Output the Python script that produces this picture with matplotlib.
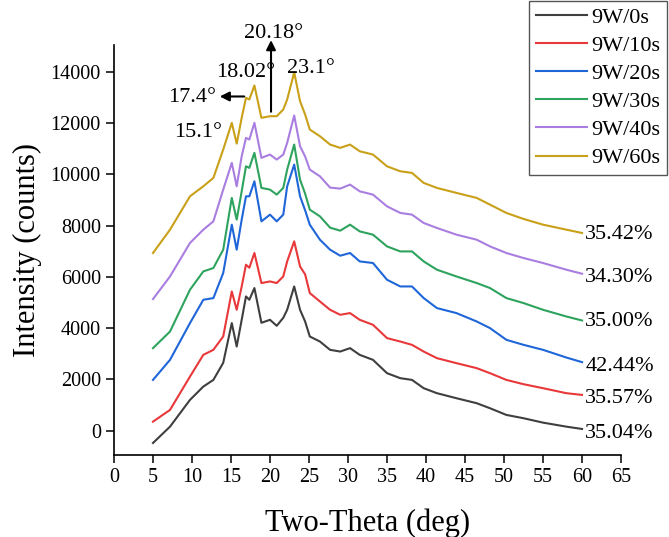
import matplotlib
matplotlib.use("Agg")
import matplotlib.pyplot as plt

plt.rcParams['font.family'] = ['Liberation Serif', 'DejaVu Serif']

theta = [5.0, 7.18, 9.74, 11.45, 12.74, 14.0, 15.1, 15.73, 16.37, 16.92, 17.35, 18.0,
         18.9, 20.0, 20.86, 21.7, 22.2, 23.1, 23.85, 24.5, 25.1, 26.4, 27.7, 29.0, 30.26,
         31.5, 33.2, 35.0, 36.7, 38.2, 39.7, 41.4, 43.9, 46.5, 48.2, 50.3, 52.5, 55.0,
         58.0, 60.0]

w0 = [-481, 156, 1200, 1720, 1981, 2646, 4197, 3283, 4326, 5237, 5108, 5565,
      4209, 4326, 4092, 4404, 4717, 5628, 4717, 4260, 3674, 3478, 3154, 3087, 3220,
      2958, 2763, 2243, 2048, 1981, 1657, 1462, 1266, 1071, 875, 614, 485, 313, 156, 66]
w10 = [352, 809, 2110, 2958, 3154, 3674, 5432, 4717, 5628, 6476, 6358, 6933,
       5760, 5823, 5760, 6018, 6605, 7386, 6409, 6100, 5370, 5041, 4717, 4522, 4588,
       4326, 4131, 3611, 3478, 3349, 3087, 2829, 2634, 2439, 2243, 1981, 1813, 1657,
       1462, 1395]
w20 = [1981, 2763, 4197, 5108, 5174, 6151, 8039, 7062, 8234, 9145, 9145, 9731,
       8168, 8430, 8168, 8430, 9535, 10383, 9145, 8600, 8039, 7452, 7062, 6827, 6933,
       6605, 6542, 5889, 5628, 5628, 5174, 4783, 4588, 4260, 4002, 3545, 3349, 3154,
       2853, 2673]
w30 = [3220, 3869, 5499, 6214, 6347, 7062, 9082, 8234, 9340, 10317, 10255, 10841,
       9473, 9406, 9211, 9473, 10188, 11165, 9797, 9250, 8625, 8363, 7922, 7804, 8039,
       7777, 7648, 7191, 6995, 6995, 6605, 6280, 6018, 5760, 5565, 5174, 4979, 4717,
       4455, 4299]
w40 = [5135, 6018, 7324, 7843, 8168, 9406, 10450, 9536, 10708, 11427, 11360, 12013,
       10646, 10774, 10579, 10774, 11231, 12298, 11099, 10700, 10188, 9926, 9485, 9446,
       9602, 9340, 9211, 8754, 8496, 8430, 8105, 7910, 7648, 7452, 7191, 6933, 6737,
       6542, 6280, 6124]
w60 = [6933, 7843, 9145, 9536, 9864, 10970, 12013, 11200, 12208, 12990, 12924, 13471,
       12208, 12271, 12271, 12533, 12924, 13979, 12857, 12338, 11751, 11490, 11165,
       11036, 11165, 10903, 10774, 10317, 10122, 10059, 9668, 9473, 9278, 9082, 8820,
       8496, 8262, 8039, 7843, 7714]

labels = ['9W/0s', '9W/10s', '9W/20s', '9W/30s', '9W/40s', '9W/60s']
colors = ['#3f3f3f', '#e8383a', '#1f66d9', '#2ea35e', '#a97ee0', '#c9a018']
percent = ['35.04%', '35.57%', '42.44%', '35.00%', '34.30%', '35.42%']
percent_y = [-130, 1240, 2490, 4250, 5970, 7650]

fig = plt.figure(figsize=(6.69, 5.37), dpi=100)
ax = fig.add_axes([0.1704, 0.1527, 0.7579, 0.7635])

series = [w0, w10, w20, w30, w40, w60]
for vals, name, c in zip(series, labels, colors):
    ax.plot(theta, vals, color=c, lw=1.5, label=name)

for txt, yv in zip(percent, percent_y):
    ax.text(60.4, yv, txt, fontsize=16, ha='left', va='center', clip_on=False)

# peak annotations
arrow = dict(arrowstyle='-|>', color='black', lw=1.5, mutation_scale=14)
ax.annotate('', xy=(20.13, 15348), xytext=(20.13, 12337), arrowprops=arrow,
            annotation_clip=False)
ax.annotate('', xy=(13.2, 13041), xytext=(17.05, 13041), arrowprops=arrow,
            annotation_clip=False)
ax.text(20.4, 15500, '20.18°', fontsize=16, ha='center', va='center', clip_on=False)
ax.text(16.9, 13980, '18.02°', fontsize=16, ha='center', va='center')
ax.text(25.3, 14150, '23.1°', fontsize=16, ha='center', va='center')
ax.text(13.1, 12990, '17.4°', fontsize=16, ha='right', va='center')
ax.text(10.8, 11640, '15.1°', fontsize=16, ha='center', va='center')

ax.set_xlim(0, 65)
ax.set_ylim(-950, 15050)
ax.set_xticks(range(0, 66, 5))
ax.set_yticks(range(0, 14001, 2000))
ax.tick_params(direction='out', length=6, width=1.1, labelsize=14.5)
for s in ['top', 'right']:
    ax.spines[s].set_visible(False)
for s in ['left', 'bottom']:
    ax.spines[s].set_linewidth(1.2)

ax.set_xlabel('Two-Theta (deg)', fontsize=22, labelpad=15)
ax.set_ylabel('Intensity (counts)', fontsize=22, labelpad=6)

leg = fig.legend(loc='upper right', bbox_to_anchor=(0.997, 0.999), fontsize=16,
                 fancybox=False, edgecolor='#555555', framealpha=1,
                 handlelength=2.3, handletextpad=0.2, borderpad=0.3,
                 labelspacing=0.34, borderaxespad=0)
leg.get_frame().set_linewidth(1.0)

fig.savefig('out.png', dpi=100)
